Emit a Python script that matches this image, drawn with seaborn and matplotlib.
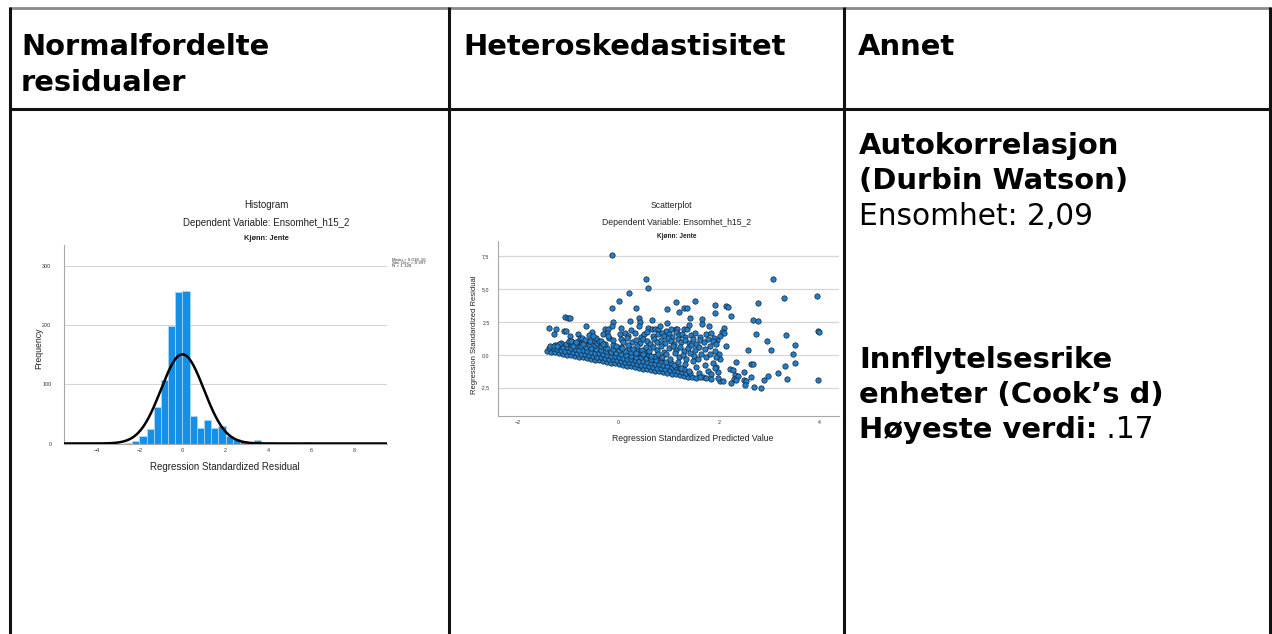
import numpy as np
import pandas as pd
import matplotlib
matplotlib.use("Agg")
import matplotlib.pyplot as plt
import seaborn as sns

# ---------------- text content ----------------
header_col1 = ["Normalfordelte", "residualer"]
header_col2 = ["Heteroskedastisitet"]
header_col3 = ["Annet"]

dw_lines_bold = ["Autokorrelasjon", "(Durbin Watson)"]
dw_line_value = "Ensomhet: 2,09"
cook_lines_bold = ["Innflytelsesrike", "enheter (Cook\u2019s d)"]
cook_label = "Høyeste verdi:"
cook_value = " .17"

dep_var_label = "Dependent Variable: Ensomhet_h15_2"
group_label = "Kjønn: Jente"

hist_title = "Histogram"
hist_xlabel = "Regression Standardized Residual"
hist_ylabel = "Frequency"
hist_stats = ["Mean = 9,01E-16", "Std. Dev. = 0,997", "N = 1 128"]
hist_mean = 9.01e-16
hist_sd = 0.997
hist_n = 1128

scatter_title = "Scatterplot"
scatter_xlabel = "Regression Standardized Predicted Value"
scatter_ylabel = "Regression Standardized Residual"

# ---------------- histogram data ----------------
bin_width = 1.0 / 3.0
bin_edges = [k / 3.0 for k in range(-8, 19)]          # -2.67 ... 6.0
hist_counts = [1, 4, 12, 25, 61, 107, 198, 255, 257, 47, 26, 39, 26,
               30, 13, 7, 4, 1, 6, 3, 3, 1, 0, 0, 0, 2]
hist_xticks = [-4, -2, 0, 2, 4, 6, 8]
hist_yticks = [0, 100, 200, 300]

# ---------------- scatter data (pred, resid) ----------------
band_pred = [
    -1.42, -1.34, -1.26, -1.18, -1.10, -1.02, -0.94, -0.86, -0.78, -0.70, -0.62, -0.54, -0.46,
    -0.38, -0.30, -0.22, -0.14, -0.06, 0.02, 0.10, 0.18, 0.26, 0.34, 0.42, 0.50, 0.58, 0.66,
    0.74, 0.82, 0.90, 0.98, 1.06, 1.14, 1.22, 1.30, 1.38, 1.46, 1.54,
    -1.38, -1.30, -1.22, -1.14, -1.06, -0.98, -0.90, -0.82, -0.74, -0.66, -0.58, -0.50, -0.42,
    -0.34, -0.26, -0.18, -0.10, -0.02, 0.06, 0.14, 0.22, 0.30, 0.38, 0.46, 0.54, 0.62, 0.70,
    0.78, 0.86, 0.94, 1.02, 1.10, 1.18, 1.26, 1.34, 1.42,
    -1.26, -1.18, -1.10, -1.02, -0.94, -0.86, -0.78, -0.70, -0.62, -0.54, -0.46, -0.38, -0.30,
    -0.22, -0.14, -0.06, 0.02, 0.10, 0.18, 0.26, 0.34, 0.42, 0.50, 0.58, 0.66, 0.74, 0.82,
    0.90, 0.98, 1.06, 1.14, 1.22, 1.30,
    -1.15, -1.05, -0.95, -0.85, -0.75, -0.65, -0.55, -0.45, -0.35, -0.25, -0.15, -0.05, 0.05,
    0.15, 0.25, 0.35, 0.45, 0.55, 0.65, 0.75, 0.85, 0.95, 1.05,
    -0.95, -0.83, -0.71, -0.59, -0.47, -0.35, -0.23, -0.11, 0.01, 0.13, 0.25, 0.37, 0.49,
    0.61, 0.73, 0.85,
    -0.75, -0.59, -0.43, -0.27, -0.11, 0.05, 0.21, 0.37, 0.53,
]
band_resid = [
    0.30, 0.25, 0.19, 0.14, 0.08, 0.02, -0.03, -0.09, -0.14, -0.20, -0.26, -0.31, -0.37,
    -0.42, -0.48, -0.54, -0.59, -0.65, -0.70, -0.76, -0.82, -0.87, -0.93, -0.98, -1.04, -1.10,
    -1.15, -1.21, -1.26, -1.32, -1.38, -1.43, -1.49, -1.54, -1.60, -1.66, -1.71, -1.77,
    0.55, 0.49, 0.43, 0.38, 0.32, 0.27, 0.21, 0.15, 0.10, 0.04, -0.01, -0.07, -0.13,
    -0.18, -0.24, -0.29, -0.35, -0.41, -0.46, -0.52, -0.57, -0.63, -0.69, -0.74, -0.80, -0.85,
    -0.91, -0.97, -1.02, -1.08, -1.13, -1.19, -1.25, -1.30, -1.36, -1.41,
    0.73, 0.68, 0.62, 0.56, 0.51, 0.45, 0.40, 0.34, 0.28, 0.23, 0.17, 0.12, 0.06,
    0.00, -0.05, -0.11, -0.16, -0.22, -0.28, -0.33, -0.39, -0.44, -0.50, -0.56, -0.61, -0.67,
    -0.72, -0.78, -0.84, -0.89, -0.95, -1.00, -1.06,
    0.93, 0.86, 0.79, 0.72, 0.65, 0.58, 0.51, 0.44, 0.37, 0.30, 0.23, 0.16, 0.09,
    0.02, -0.06, -0.13, -0.20, -0.27, -0.34, -0.41, -0.48, -0.55, -0.62,
    1.06, 0.97, 0.89, 0.80, 0.72, 0.64, 0.55, 0.47, 0.38, 0.30, 0.22, 0.13, 0.05,
    -0.04, -0.12, -0.21,
    1.19, 1.07, 0.96, 0.85, 0.74, 0.63, 0.51, 0.40, 0.29,
]
top_points = [
    (-0.12, 7.58), (0.55, 5.78), (0.59, 5.06), (0.22, 4.68), (0.02, 4.11), (-0.13, 3.55),
    (0.35, 3.55), (3.08, 5.78), (3.30, 4.29), (3.97, 4.50), (2.79, 3.93), (2.15, 3.68),
    (2.25, 2.96), (1.52, 4.11), (1.15, 4.04), (1.30, 3.57), (1.36, 3.55), (1.20, 3.29),
    (1.92, 3.83), (1.92, 3.16), (0.98, 3.47), (2.18, 3.65),
]
right_points = [
    (2.69, 2.63), (2.78, 2.58), (2.10, 2.03), (2.06, 1.72), (2.11, 1.67), (2.02, 1.41),
    (1.97, 1.10), (2.75, 1.59), (3.34, 1.53), (3.98, 1.78), (4.01, 1.75), (2.96, 1.08),
    (3.53, 0.72), (2.14, 0.64), (2.59, 0.35), (3.04, 0.37), (3.48, 0.09), (2.00, 0.08),
    (2.02, -0.31), (2.35, -0.54), (2.64, -0.70), (2.68, -0.71), (3.33, -0.84), (3.52, -0.63),
    (1.95, -0.95), (1.98, -1.29), (2.22, -1.11), (2.28, -1.16), (2.33, -1.54), (2.39, -1.59),
    (2.50, -1.31), (2.30, -1.85), (2.35, -1.88), (2.02, -2.00), (2.08, -2.02), (2.24, -2.13),
    (2.50, -1.95), (2.55, -2.00), (2.52, -2.31), (2.64, -1.72), (2.70, -2.44), (2.84, -2.56),
    (2.90, -1.93), (2.99, -1.62), (3.18, -1.41), (3.36, -1.85), (3.98, -1.95),
]
mid_points = [
    (-0.11, 2.49), (-0.13, 2.19), (0.24, 2.57), (0.42, 2.83), (0.44, 2.49), (0.42, 2.19),
    (0.67, 2.65), (0.97, 2.44), (1.42, 2.83), (1.67, 2.70), (1.67, 2.31), (1.81, 2.19),
    (-0.26, 1.93), (-0.21, 1.96), (0.06, 2.06), (0.26, 1.88), (0.60, 2.06), (0.67, 1.93),
    (0.74, 1.96), (0.79, 1.98), (0.84, 2.19), (0.96, 1.80), (1.04, 1.98), (1.14, 1.98),
    (1.17, 1.93), (1.30, 1.98), (1.37, 1.96), (1.40, 2.24),
    (-0.22, 1.65), (0.03, 1.60), (0.13, 1.70), (0.19, 1.45), (0.33, 1.67), (0.45, 1.38),
    (0.52, 1.55), (0.57, 1.75), (0.70, 1.45), (0.80, 1.62), (0.88, 1.70), (0.92, 1.40),
    (1.00, 1.55), (1.07, 1.33), (1.14, 1.72), (1.20, 1.50), (1.27, 1.62), (1.33, 1.38),
    (1.44, 1.54), (1.52, 1.65), (1.62, 1.36), (1.75, 1.62), (1.85, 1.67), (1.90, 1.30),
    (-0.19, 1.30), (-0.10, 1.10), (0.05, 1.20), (0.10, 0.95), (0.17, 1.25), (0.28, 1.00),
    (0.36, 1.15), (0.44, 0.90), (0.50, 1.20), (0.58, 1.05), (0.64, 0.85), (0.72, 1.20),
    (0.78, 0.95), (0.86, 1.12), (0.93, 0.88), (0.99, 1.25), (1.05, 1.05), (1.10, 0.82),
    (1.18, 1.18), (1.25, 0.95), (1.32, 1.10), (1.40, 0.88), (1.48, 1.20), (1.55, 0.80),
    (1.63, 1.10), (1.70, 0.95), (1.78, 1.22), (1.88, 1.05), (1.95, 0.85),
    (-0.05, 0.70), (0.08, 0.55), (0.20, 0.72), (0.30, 0.45), (0.38, 0.65), (0.47, 0.35),
    (0.55, 0.58), (0.62, 0.30), (0.70, 0.62), (0.77, 0.40), (0.85, 0.68), (0.92, 0.25),
    (1.00, 0.52), (1.08, 0.70), (1.15, 0.35), (1.22, 0.60), (1.30, 0.28), (1.38, 0.55),
    (1.45, 0.72), (1.52, 0.40), (1.60, 0.62), (1.72, 0.45), (1.82, 0.70), (1.92, 0.30),
    (0.35, 0.15), (0.50, 0.05), (0.65, -0.10), (0.80, 0.10), (0.88, -0.20), (0.95, 0.05),
    (1.03, -0.30), (1.12, 0.12), (1.20, -0.15), (1.28, 0.00), (1.35, -0.35), (1.42, 0.15),
    (1.50, -0.10), (1.58, -0.30), (1.65, 0.05), (1.75, -0.20), (1.83, 0.10), (1.95, -0.15),
    (1.10, -0.80), (1.18, -0.55), (1.25, -1.00), (1.32, -0.70), (1.40, -1.20), (1.48, -0.45),
    (1.55, -0.95), (1.60, -1.35), (1.68, -1.70), (1.73, -0.80), (1.78, -1.20), (1.85, -1.45),
    (1.88, -0.60), (1.93, -1.00), (1.98, -1.75), (1.62, -1.70), (1.75, -1.78), (1.85, -1.85),
]
left_points = [
    (-1.06, 2.85), (-1.01, 2.83), (-0.96, 2.80), (-1.39, 2.03), (-1.24, 1.93), (-1.29, 1.62),
    (-1.09, 1.80), (-1.04, 1.80), (-0.64, 2.19), (-0.52, 1.75), (-0.80, 1.62), (-0.96, 1.47),
    (-0.99, 1.08), (-0.94, 1.08), (-0.59, 1.50), (-0.76, 1.29), (-0.72, 1.29), (-0.66, 1.16),
    (-0.56, 1.08), (-0.91, 0.69), (-0.85, 0.95), (-0.46, 1.03), (-0.42, 0.90), (-0.44, 1.29),
    (-0.39, 1.03), (-0.34, 1.03), (-1.18, 0.85), (-1.36, 0.64), (-1.29, 0.69), (-1.22, 0.64),
    (-0.70, 0.80), (-0.30, 0.80), (-0.50, 1.40), (-0.30, 1.55), (-0.20, 1.45),
]
scatter_xticks = [-2, 0, 2, 4]
scatter_yticks = [-2.5, 0.0, 2.5, 5.0, 7.5]
scatter_yticklabels = ["-2,5", "0,0", "2,5", "5,0", "7,5"]

# ---------------- styling ----------------
sns.set_theme(style="white")
plt.rcParams["font.family"] = ["DejaVu Sans"]
CHART_FONT = ["Liberation Sans", "DejaVu Sans"]
TABLE_FONT = ["DejaVu Sans"]
BAR_COLOR = "#1590e6"
BAR_EDGE = "#b3dbf7"
DOT_COLOR = "#1f7fcc"
DOT_EDGE = "#1a2430"
GRID = "#d6d6d6"
SPINE = "#a8a8a8"
TXT = "#222222"

W, H = 1272, 634
fig = plt.figure(figsize=(W / 100, H / 100), dpi=100)
fig.patch.set_facecolor("white")

bg = fig.add_axes([0, 0, 1, 1])
bg.set_xlim(0, W)
bg.set_ylim(H, 0)
bg.axis("off")


def px_axes(left, top, right, bottom):
    ax = fig.add_axes([left / W, 1 - bottom / H, (right - left) / W, (bottom - top) / H])
    ax.set_facecolor("none")
    return ax


# ---------------- table grid ----------------
bg.plot([9, 1271], [8, 8], color="#8a8a8a", lw=2.0, solid_capstyle="butt")
bg.plot([9, 1271], [108.5, 108.5], color="#111111", lw=2.2, solid_capstyle="butt")
for xv in [10, 449, 844, 1270]:
    bg.plot([xv, xv], [7, H], color="#111111", lw=2.2, solid_capstyle="butt")

# headers
HS = 20.9
RS = 21.3
for i, line in enumerate(header_col1):
    bg.text(21, 55 + 36 * i, line, fontsize=HS, fontweight="bold", family=TABLE_FONT,
            ha="left", va="baseline", color="black")
bg.text(463, 55, header_col2[0], fontsize=HS, fontweight="bold", family=TABLE_FONT,
        ha="left", va="baseline", color="black")
bg.text(858, 55, header_col3[0], fontsize=HS, fontweight="bold", family=TABLE_FONT,
        ha="left", va="baseline", color="black")

# right column text
TX = 859
bg.text(TX, 154, dw_lines_bold[0], fontsize=HS, fontweight="bold", family=TABLE_FONT,
        ha="left", va="baseline", color="black")
bg.text(TX, 189.5, dw_lines_bold[1], fontsize=HS, fontweight="bold", family=TABLE_FONT,
        ha="left", va="baseline", color="black")
bg.text(TX, 225, dw_line_value, fontsize=RS, family=TABLE_FONT, ha="left", va="baseline",
        color="black")
bg.text(TX, 368, cook_lines_bold[0], fontsize=HS, fontweight="bold", family=TABLE_FONT,
        ha="left", va="baseline", color="black")
bg.text(TX, 403, cook_lines_bold[1], fontsize=HS, fontweight="bold", family=TABLE_FONT,
        ha="left", va="baseline", color="black")
t_lab = bg.text(TX, 438, cook_label, fontsize=HS, fontweight="bold", family=TABLE_FONT,
                ha="left", va="baseline", color="black")
renderer = fig.canvas.get_renderer()
bb = t_lab.get_window_extent(renderer)
x_end = bg.transData.inverted().transform((bb.x1, bb.y0))[0]
bg.text(x_end, 438, cook_value, fontsize=RS, family=TABLE_FONT, ha="left", va="baseline",
        color="black")

# ---------------- histogram ----------------
axh = px_axes(64, 245, 387, 443.5)
hist_df = pd.DataFrame({
    "center": [e + bin_width / 2 for e in bin_edges[:-1]],
    "count": hist_counts,
})
sns.histplot(data=hist_df, x="center", weights="count", bins=bin_edges, ax=axh,
             color=BAR_COLOR, edgecolor=BAR_EDGE, linewidth=0.5, alpha=1.0, zorder=2)
xs = np.linspace(-5.5, 9.5, 500)
ys = hist_n * bin_width * np.exp(-0.5 * ((xs - hist_mean) / hist_sd) ** 2) / (hist_sd * np.sqrt(2 * np.pi))
axh.plot(xs, ys, color="black", lw=1.8, zorder=3)
axh.set_xlim(-5.5, 9.5)
axh.set_ylim(0, 335)
axh.set_xticks(hist_xticks)
axh.set_yticks(hist_yticks)
axh.yaxis.grid(True, color=GRID, lw=0.8, zorder=0)
axh.xaxis.grid(False)
axh.set_axisbelow(True)
axh.tick_params(axis="both", length=0, labelsize=3.9, labelcolor="#333333")
axh.tick_params(axis="y", pad=9.0)
axh.tick_params(axis="x", pad=3.2)
for lab in axh.get_xticklabels() + axh.get_yticklabels():
    lab.set_family(CHART_FONT)
for s in ["top", "right"]:
    axh.spines[s].set_visible(False)
for s in ["left", "bottom"]:
    axh.spines[s].set_color(SPINE)
    axh.spines[s].set_linewidth(0.8)
axh.set_xlabel("")
axh.set_ylabel("")

bg.text(266, 205, hist_title, fontsize=7, family=CHART_FONT, ha="center", va="center", color=TXT)
bg.text(266, 222.8, dep_var_label, fontsize=7, family=CHART_FONT, ha="center", va="center", color=TXT)
bg.text(266, 238.6, group_label, fontsize=5.3, fontweight="bold", family=CHART_FONT,
        ha="center", va="center", color=TXT)
bg.text(225, 467.3, hist_xlabel, fontsize=7, family=CHART_FONT, ha="center", va="center", color=TXT)
bg.text(38.4, 348, hist_ylabel, fontsize=6.3, family=CHART_FONT, ha="center", va="center",
        rotation=90, color=TXT)
for i, s in enumerate(hist_stats):
    bg.text(391.5, 259.2 + 3.6 * i, s, fontsize=3.2, family=CHART_FONT, ha="left", va="center",
            color="#333333")

# ---------------- scatter ----------------
axs = px_axes(498, 240.5, 839, 415.7)
all_pts = top_points + right_points + mid_points + left_points
scatter_df = pd.DataFrame({
    "pred": band_pred + [p[0] for p in all_pts],
    "resid": band_resid + [p[1] for p in all_pts],
})
sns.scatterplot(data=scatter_df, x="pred", y="resid", ax=axs, s=15, color=DOT_COLOR,
                edgecolor=DOT_EDGE, linewidth=0.5, zorder=3)
axs.set_xlim(-2.4, 4.4)
axs.set_ylim(-4.63, 8.7)
axs.set_xticks(scatter_xticks)
axs.set_yticks(scatter_yticks)
axs.set_yticklabels(scatter_yticklabels)
axs.yaxis.grid(True, color=GRID, lw=0.9, zorder=0)
axs.xaxis.grid(False)
axs.set_axisbelow(True)
axs.tick_params(axis="both", length=0, labelsize=3.8, labelcolor="#333333")
axs.tick_params(axis="y", pad=6.0)
axs.tick_params(axis="x", pad=3.2)
for lab in axs.get_xticklabels() + axs.get_yticklabels():
    lab.set_family(CHART_FONT)
for s in ["top", "right"]:
    axs.spines[s].set_visible(False)
for s in ["left", "bottom"]:
    axs.spines[s].set_color(SPINE)
    axs.spines[s].set_linewidth(0.8)
axs.set_xlabel("")
axs.set_ylabel("")

bg.text(671, 205, scatter_title, fontsize=6.2, family=CHART_FONT, ha="center", va="center", color=TXT)
bg.text(677, 222.7, dep_var_label, fontsize=6.2, family=CHART_FONT, ha="center", va="center", color=TXT)
bg.text(677, 236, group_label, fontsize=4.7, fontweight="bold", family=CHART_FONT,
        ha="center", va="center", color=TXT)
bg.text(692.5, 438.2, scatter_xlabel, fontsize=6.25, family=CHART_FONT, ha="center", va="center", color=TXT)
bg.text(475, 335, scatter_ylabel, fontsize=5.5, family=CHART_FONT, ha="center", va="center",
        rotation=90, color=TXT)

fig.savefig("out.png", dpi=100, facecolor="white")
